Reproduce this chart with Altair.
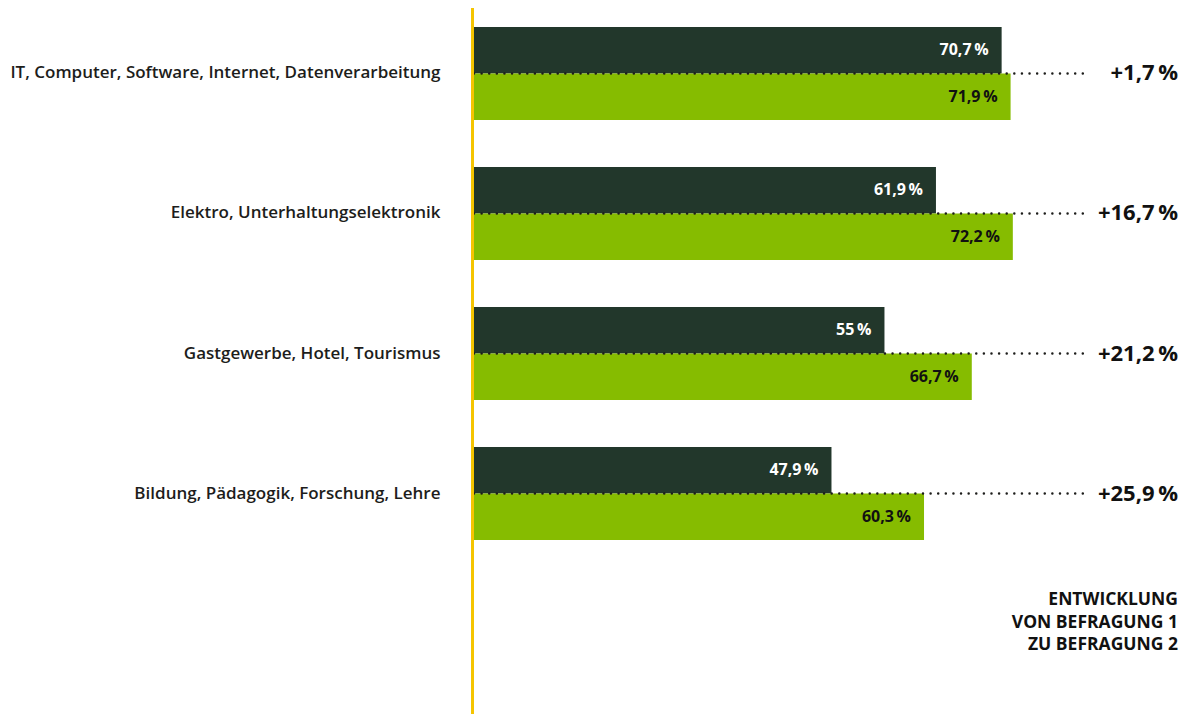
import altair as alt
import pandas as pd

categories = [
    "IT, Computer, Software, Internet, Datenverarbeitung",
    "Elektro, Unterhaltungselektronik",
    "Gastgewerbe, Hotel, Tourismus",
    "Bildung, Pädagogik, Forschung, Lehre",
]
surveys = ["Befragung 1", "Befragung 2"]
survey1 = [70.7, 61.9, 55.0, 47.9]
survey2 = [71.9, 72.2, 66.7, 60.3]
change = [1.7, 16.7, 21.2, 25.9]
note_lines = ["ENTWICKLUNG", "VON BEFRAGUNG 1", "ZU BEFRAGUNG 2"]

DARK = "#22372b"
GREEN = "#86bc00"
YELLOW = "#f5c400"
FONT = "Open Sans"


def de_pct(v, plus=False):
    s = f"{v:.1f}".rstrip("0").rstrip(".").replace(".", ",")
    return ("+" if plus else "") + s + "\u2009%"


rows = []
for c, a, b in zip(categories, survey1, survey2):
    rows.append({"cat": c, "survey": surveys[0], "value": a, "label": de_pct(a)})
    rows.append({"cat": c, "survey": surveys[1], "value": b, "label": de_pct(b)})
df = pd.DataFrame(rows)
chg = pd.DataFrame({"cat": categories, "label": [de_pct(v, True) for v in change]})
note = pd.DataFrame({"t": [note_lines]})

W, H = 705, 703
xmax = W / 7.463

xs = alt.Scale(domain=[0, xmax], nice=False, zero=True)
ys = alt.Scale(range=[16, 529], paddingInner=0.336, paddingOuter=0)
yax = alt.Axis(
    title=None, domain=False, ticks=False, grid=False, labelPadding=34,
    labelFontSize=17, labelFont=FONT, labelFontWeight=600,
    labelColor="#1d1d1b", labelLimit=0,
)
y = alt.Y("cat:N", sort=categories, scale=ys, axis=yax)
yoff = alt.YOffset("survey:N", sort=surveys,
                   scale=alt.Scale(domain=surveys, paddingInner=0, paddingOuter=0))
x = alt.X("value:Q", scale=xs, axis=None)

bars = alt.Chart(df).mark_bar().encode(
    x=x, y=y, yOffset=yoff,
    color=alt.Color("survey:N", scale=alt.Scale(domain=surveys, range=[DARK, GREEN]), legend=None),
)

lab1 = alt.Chart(df).transform_filter(alt.datum.survey == surveys[0]).mark_text(
    align="right", baseline="middle", dx=-13, font=FONT, fontWeight="bold",
    fontSize=16, color="white",
).encode(x=x, y=y, yOffset=yoff, text="label:N")

lab2 = alt.Chart(df).transform_filter(alt.datum.survey == surveys[1]).mark_text(
    align="right", baseline="middle", dx=-13, font=FONT, fontWeight="bold",
    fontSize=16, color="#111111",
).encode(x=x, y=y, yOffset=yoff, text="label:N")

dots = alt.Chart(chg).mark_rule(
    color="#1d1d1b", strokeWidth=2.5, strokeCap="round", strokeDash=[0.01, 7.6],
).encode(y=y, x=alt.value(0), x2=alt.value(611))

chg_text = alt.Chart(chg).mark_text(
    align="right", baseline="middle", font=FONT, fontWeight="bold",
    fontSize=22, color="#111111",
).encode(y=y, x=alt.value(W - 1), text="label:N")

yellow = alt.Chart(chg).mark_rule(color=YELLOW, strokeWidth=2.5).encode(
    x=alt.value(-1.5), y=alt.value(-6), y2=alt.value(H)
)

note_text = alt.Chart(note).mark_text(
    align="right", baseline="middle", font=FONT, fontWeight="bold",
    fontSize=17.5, color="#111111", lineHeight=22.5,
).encode(x=alt.value(W - 1), y=alt.value(589), text="t")

chart = alt.layer(bars, dots, lab1, lab2, chg_text, yellow, note_text).properties(
    width=W, height=H,
    padding={"left": 466, "top": 3, "right": 0, "bottom": 0},
    autosize=alt.AutoSizeParams(type="none"),
    background="white",
).configure_view(stroke=None)

chart.save("out.html", embed_options={"renderer": "svg", "actions": False})
